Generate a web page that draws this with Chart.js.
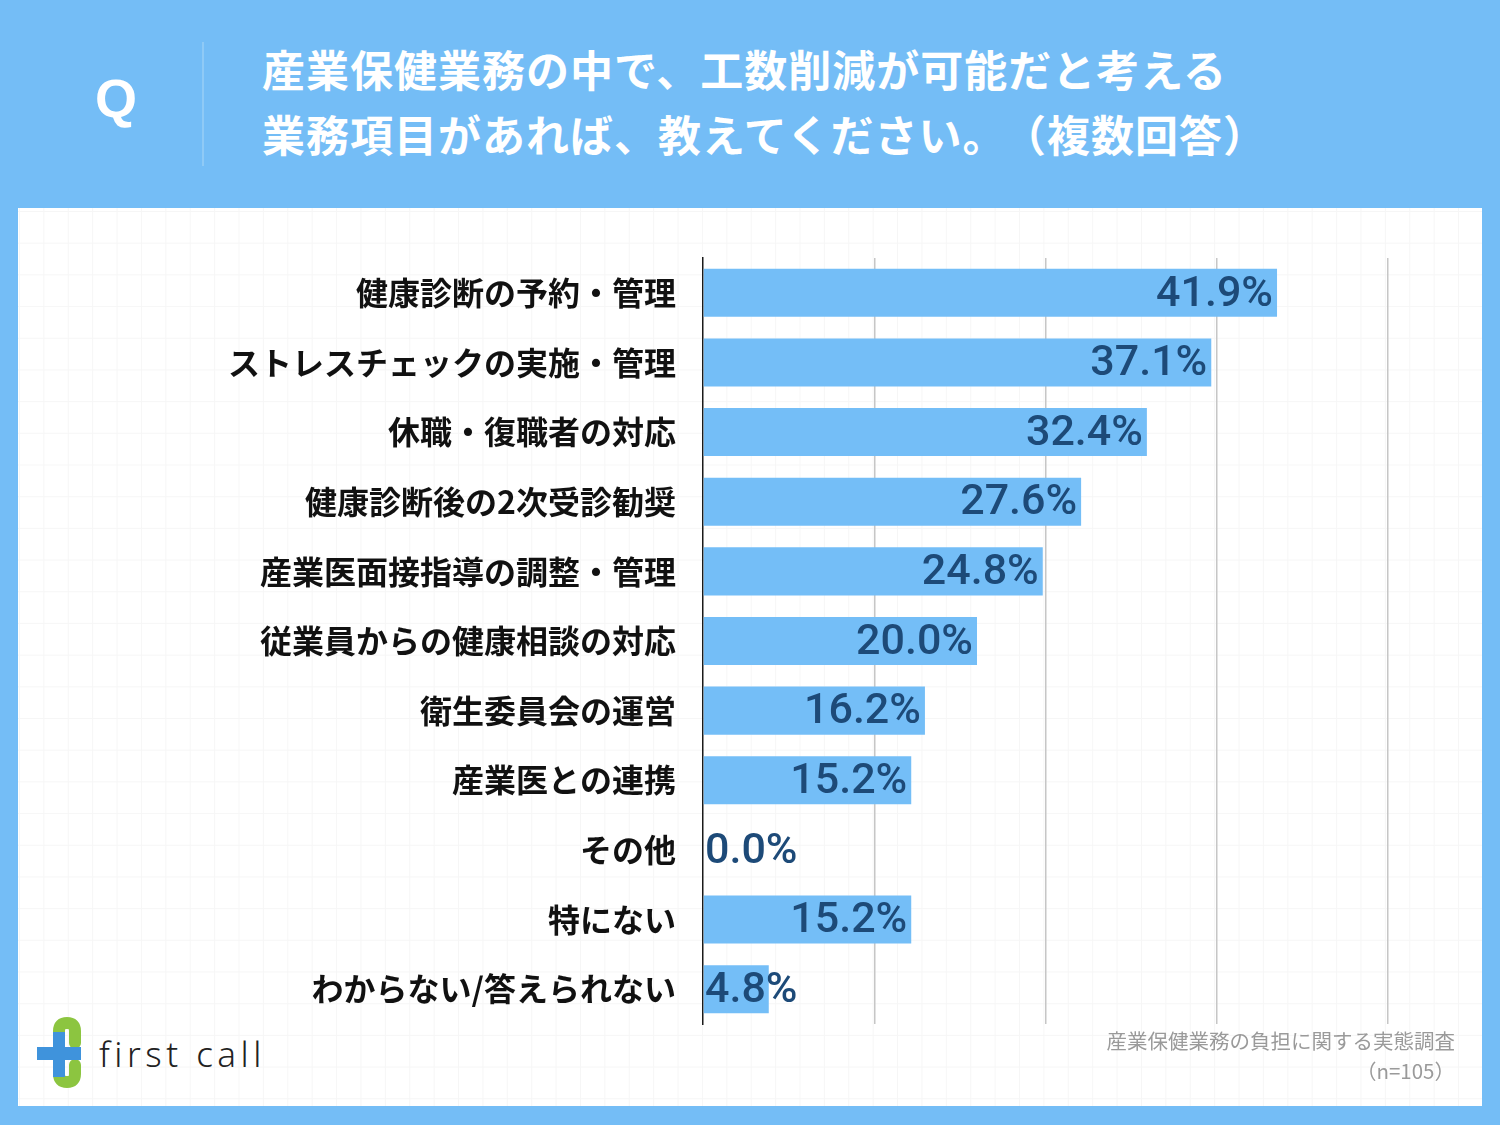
<!DOCTYPE html>
<html lang="ja">
<head>
<meta charset="utf-8">
<script src="https://cdn.jsdelivr.net/npm/chart.js@4.4.1/dist/chart.umd.min.js"></script>
<style>
  html, body { margin: 0; padding: 0; }
  body { width: 1500px; height: 1125px; background: #74bdf6; position: relative; overflow: hidden;
         font-family: "Noto Sans CJK JP", "Noto Sans", sans-serif; }
  .q { position: absolute; left: 88px; top: 62px; width: 56px; text-align: center;
       color: #fff; font: bold 54px "Liberation Sans", Arial, sans-serif; line-height: 72px; }
  .divider { position: absolute; left: 202px; top: 42px; width: 2px; height: 124px; background: #8fcaf6; }
  .title { position: absolute; left: 262px; top: 36px; color: #fff; font-weight: bold;
           font-size: 43px; line-height: 65px; letter-spacing: 1px; white-space: nowrap; }
  .panel { position: absolute; left: 18px; top: 208px; width: 1464px; height: 898px;
           background-color: #fff;
           background-image:
             linear-gradient(to right, #f6f6f6 1px, transparent 1px),
             linear-gradient(to bottom, #f6f6f6 1px, transparent 1px);
           background-size: 24.4px 31.7px;
           background-position: 1px 3px; }
  #grafico { position: absolute; left: 0; top: 0; }
  .source { position: absolute; right: 45px; top: 1025px; color: #9a9a9a; font-size: 20.5px;
            text-align: right; line-height: 30px; }
  .logo { position: absolute; left: 0; top: 0; }
  .brand { position: absolute; left: 99px; top: 1030px; font: 300 35px "Noto Sans", sans-serif;
           letter-spacing: 4.5px; color: #222; }
</style>
</head>
<body>
<div class="q">Q</div>
<div class="divider"></div>
<div class="title">産業保健業務の中で、工数削減が可能だと考える<br>業務項目があれば、教えてください。<span style="margin-left:18px">（複数回答）</span></div>
<div class="panel"></div>
<svg class="logo" width="1500" height="1125">
  <path d="M75 1043 L75 1031 Q75 1023 67 1023 Q59 1023 59 1031 L59 1074 Q59 1082 67 1082 Q75 1082 75 1074 L75 1065"
        fill="none" stroke="#8cc540" stroke-width="12" stroke-linecap="round"/>
  <rect x="53" y="1032" width="12" height="45" fill="#3f93dc"/>
  <rect x="37" y="1047" width="44" height="13" fill="#3f93dc"/>
</svg>
<div class="brand">first call</div>
<canvas id="grafico" width="1500" height="1125"></canvas>
<div class="source">産業保健業務の負担に関する実態調査<br>（n=105）</div>

<script>
const categorias = [
  '健康診断の予約・管理',
  'ストレスチェックの実施・管理',
  '休職・復職者の対応',
  '健康診断後の2次受診勧奨',
  '産業医面接指導の調整・管理',
  '従業員からの健康相談の対応',
  '衛生委員会の運営',
  '産業医との連携',
  'その他',
  '特にない',
  'わからない/答えられない'
]
const valores = [41.9, 37.1, 32.4, 27.6, 24.8, 20.0, 16.2, 15.2, 0.0, 15.2, 4.8]
const ticksX = [0, 12.5, 25, 37.5, 50]

const divGrafico = document.querySelector('#grafico')

// etiquetas de valor al final de cada barra
const etiquetas = {
  id: 'etiquetas',
  afterDatasetsDraw(chart) {
    const ctx = chart.ctx
    const meta = chart.getDatasetMeta(0)
    const base = chart.scales.x.getPixelForValue(0)
    ctx.save()
    ctx.font = '500 43px Roboto, "Liberation Sans", sans-serif'
    ctx.fillStyle = '#1d4a78'
    ctx.textBaseline = 'middle'
    ctx.textAlign = 'left'
    meta.data.forEach((bar, i) => {
      const txt = valores[i].toFixed(1) + '%'
      const w = ctx.measureText(txt).width
      const x = Math.max(bar.x - 4 - w, base + 2)
      ctx.fillText(txt, x, bar.y + 2)
    })
    ctx.restore()
  }
}

const chart = new Chart(divGrafico, {
  type: 'bar',
  data: {
    labels: categorias,
    datasets: [{
      data: valores,
      backgroundColor: '#74bef7',
      borderWidth: 0,
      categoryPercentage: 1,
      barPercentage: 0.69
    }]
  },
  options: {
    indexAxis: 'y',
    responsive: false,
    animation: false,
    devicePixelRatio: 1,
    layout: { padding: { left: 0, right: 112, top: 258, bottom: 101 } },
    plugins: { legend: { display: false }, tooltip: { enabled: false } },
    scales: {
      x: {
        min: 0,
        max: 50,
        afterBuildTicks: (scale) => { scale.ticks = ticksX.map(v => ({ value: v })) },
        afterFit: (scale) => { scale.height = 0 },
        ticks: { display: false },
        border: { display: false },
        grid: {
          drawTicks: false,
          color: (c) => c.tick && c.tick.value === 0 ? 'rgba(0,0,0,0)' : '#c6c6c6',
          lineWidth: 1.5
        }
      },
      y: {
        afterFit: (scale) => { scale.width = 703 },
        grid: { display: false, drawTicks: false },
        border: { color: '#1a1a1a', width: 1.5 },
        ticks: {
          padding: 27,
          color: '#111',
          font: { family: '"Noto Sans CJK JP", sans-serif', size: 32, weight: 'bold' }
        }
      }
    }
  },
  plugins: [etiquetas]
})
</script>
</body>
</html>
